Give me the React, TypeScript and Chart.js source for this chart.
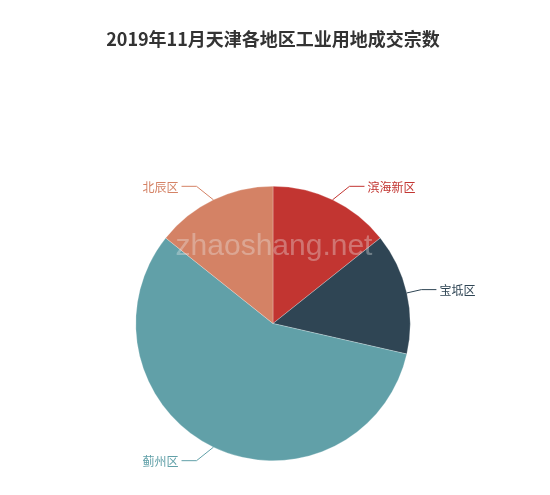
import React, { useEffect, useRef } from "react";
import { Chart, registerables, Plugin } from "chart.js";

Chart.register(...registerables);

const titleText = "2019年11月天津各地区工业用地成交宗数";
const districts = ["滨海新区", "宝坻区", "蓟州区", "北辰区"];
const deals = [1, 1, 4, 1];
const sliceColors = ["#c23531", "#2f4554", "#61a0a8", "#d48265"];
const watermark = "zhaoshang.net";

const CJK = '"Noto Sans CJK SC", "Microsoft YaHei", sans-serif';

const decorPlugin: Plugin<"pie"> = {
  id: "decor",
  afterDatasetsDraw(chart) {
    const ctx = chart.ctx;
    const meta = chart.getDatasetMeta(0);
    ctx.save();

    // title
    ctx.fillStyle = "#333";
    ctx.font = `bold 18px ${CJK}`;
    ctx.textAlign = "center";
    ctx.textBaseline = "middle";
    ctx.fillText(titleText, 273, 39);

    // labels with leader lines
    ctx.font = `12px ${CJK}`;
    meta.data.forEach((el: any, i: number) => {
      const { x, y, startAngle, endAngle, outerRadius } = el.getProps(
        ["x", "y", "startAngle", "endAngle", "outerRadius"],
        true
      );
      const mid = (startAngle + endAngle) / 2;
      const ux = Math.cos(mid);
      const uy = Math.sin(mid);
      const sgn = ux >= 0 ? 1 : -1;
      const ax = x + outerRadius * ux;
      const ay = y + outerRadius * uy;
      const by = y + (outerRadius + 15) * uy;
      const bx = x + (outerRadius + 12) * ux + sgn * 13 * Math.abs(uy);
      const cx = bx + sgn * 15;
      ctx.strokeStyle = sliceColors[i];
      ctx.lineWidth = 1;
      ctx.beginPath();
      ctx.moveTo(ax, ay);
      ctx.lineTo(bx, by);
      ctx.lineTo(cx, by);
      ctx.stroke();
      ctx.fillStyle = sliceColors[i];
      ctx.textAlign = sgn > 0 ? "left" : "right";
      ctx.textBaseline = "middle";
      ctx.fillText(districts[i], cx + sgn * 3, by + 1);
    });

    // watermark
    ctx.font = '30px "Liberation Sans", Arial, sans-serif';
    ctx.fillStyle = "rgba(235,235,235,0.35)";
    ctx.textAlign = "center";
    ctx.textBaseline = "alphabetic";
    ctx.fillText(watermark, 274, 255);

    ctx.restore();
  },
};

const PieChart: React.FC = () => {
  const canvasRef = useRef<HTMLCanvasElement>(null);
  const chartRef = useRef<Chart<"pie", number[], string>>();

  useEffect(() => {
    if (!canvasRef.current) return;
    chartRef.current?.destroy();
    chartRef.current = new Chart(canvasRef.current, {
      type: "pie",
      data: {
        labels: districts,
        datasets: [
          {
            data: deals,
            backgroundColor: sliceColors,
            borderColor: "rgba(255,255,255,0.5)",
            borderWidth: 0.5,
          },
        ],
      },
      options: {
        animation: false,
        responsive: false,
        maintainAspectRatio: false,
        layout: { padding: { top: 186, bottom: 34, left: 100, right: 104 } },
        plugins: {
          legend: { display: false },
          title: { display: false },
          tooltip: { enabled: false },
        },
      },
      plugins: [decorPlugin],
    });
    return () => {
      chartRef.current?.destroy();
      chartRef.current = undefined;
    };
  }, []);

  return (
    <div style={{ position: "fixed", left: 0, top: 0, width: 550, height: 495, background: "#fff" }}>
      <canvas ref={canvasRef} width={550} height={495} style={{ width: 550, height: 495 }} />
    </div>
  );
};

export default function App() {
  return <PieChart />;
}
